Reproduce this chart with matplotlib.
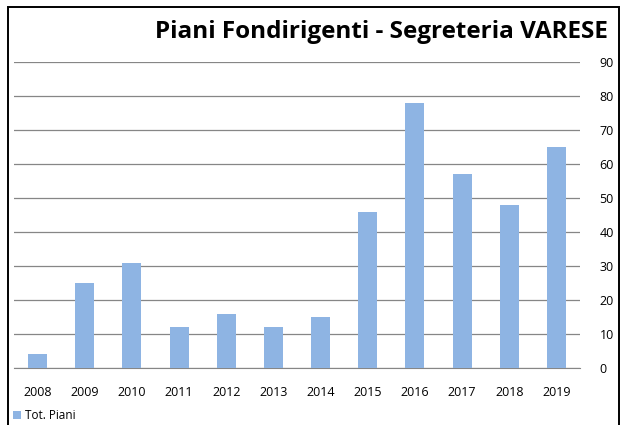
import matplotlib
matplotlib.use("Agg")
import matplotlib.pyplot as plt
from matplotlib.patches import Rectangle

years = ["2008", "2009", "2010", "2011", "2012", "2013",
         "2014", "2015", "2016", "2017", "2018", "2019"]
tot_piani = [4, 25, 31, 12, 16, 12, 15, 46, 78, 57, 48, 65]

plt.rcParams['font.family'] = ['Open Sans', 'DejaVu Sans']

fig = plt.figure(figsize=(6.24, 4.25), dpi=100)
ax = fig.add_axes([14 / 624, 1 - 368 / 425, (580 - 14) / 624, (368 - 62) / 425])

x = range(len(years))
ax.bar(x, tot_piani, width=0.4, color="#8EB4E3", label="Tot. Piani", zorder=3)

ax.set_ylim(0, 90)
ax.set_xlim(-0.5, len(years) - 0.5)
ax.set_yticks(range(0, 91, 10))
ax.yaxis.tick_right()
ax.set_xticks(list(x))
ax.set_xticklabels(years)
ax.tick_params(axis="y", length=0, pad=14, labelsize=9)
ax.tick_params(axis="x", length=0, pad=13, labelsize=9)
ax.grid(axis="y", color="#868686", linewidth=0.9, zorder=0)
for s in ["top", "left", "right"]:
    ax.spines[s].set_visible(False)
ax.spines["bottom"].set_color("#868686")

fig.text(608 / 624, 1 - 32 / 425, "Piani Fondirigenti - Segreteria VARESE",
         ha="right", va="center", fontsize=17.5, fontweight="bold")

ax.legend(loc="lower left", bbox_to_anchor=(8 / 624, -2 / 425), bbox_transform=fig.transFigure,
          frameon=False, fontsize=8.5, handlelength=0.7, handleheight=0.7,
          handletextpad=0.3, borderaxespad=0)

fig.patches.append(Rectangle((8 / 624, -0.01), (619 - 8) / 624, 1 - 7 / 425 + 0.01,
                             transform=fig.transFigure, fill=False,
                             edgecolor="black", linewidth=1.4))

fig.savefig("out.png", dpi=100)
